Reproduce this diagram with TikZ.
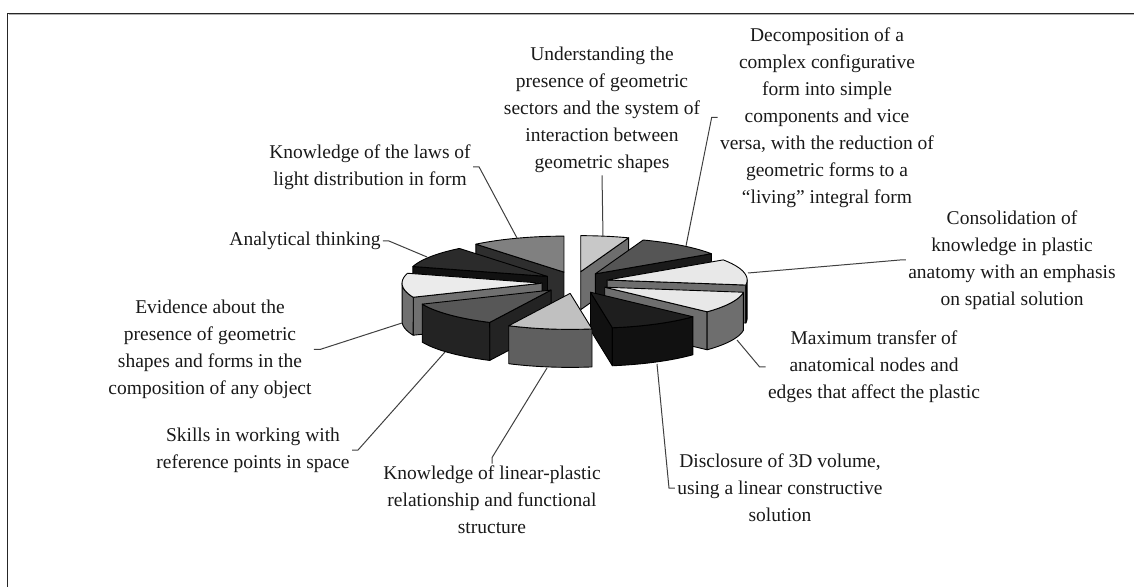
\documentclass[tikz,border=0pt]{standalone}
\usepackage{fontspec}
\setmainfont{Liberation Serif}
\usepackage{tikz}

% pie geometry, in px of the figure
\def\cx{575}\def\cy{282.5}
\def\rx{140}\def\ry{36}
\def\ex{33}\def\ey{11}
\def\h{38}

\newcommand{\settip}[2]{%
  \pgfmathsetmacro\tipx{\cx+\ex*cos((#1+#2)/2)}%
  \pgfmathsetmacro\tipy{\cy-\ey*sin((#1+#2)/2)}}
\newcommand{\radwall}[2]{%
  \filldraw[slice, fill=#2] (\tipx,\tipy) -- ++({\rx*cos(#1)},{-\ry*sin(#1)}) -- ++(0,\h) -- ({\tipx},{\tipy+\h}) -- cycle;}
\newcommand{\outwall}[3]{%
  \filldraw[slice, fill=#3] plot[domain=#1:#2, samples=16] ({\tipx+\rx*cos(\x)},{\tipy-\ry*sin(\x)})
    -- plot[domain=#2:#1, samples=16] ({\tipx+\rx*cos(\x)},{\tipy+\h-\ry*sin(\x)}) -- cycle;}
\newcommand{\topface}[3]{%
  \filldraw[slice, fill=#3] (\tipx,\tipy) -- plot[domain=#1:#2, samples=20] ({\tipx+\rx*cos(\x)},{\tipy-\ry*sin(\x)}) -- cycle;}
\newcommand{\lblfont}{\fontsize{9.75}{13.5}\selectfont}

\definecolor{topUnd}{HTML}{C8C8C8}\definecolor{sideUnd}{HTML}{6E6E6E}
\definecolor{topDec}{HTML}{555555}\definecolor{sideDec}{HTML}{1A1A1A}
\definecolor{topCon}{HTML}{E8E8E8}\definecolor{sideCon}{HTML}{6E6E6E}
\definecolor{topMax}{HTML}{E8E8E8}\definecolor{sideMax}{HTML}{6E6E6E}
\definecolor{topDis}{HTML}{1E1E1E}\definecolor{sideDis}{HTML}{111111}
\definecolor{topLin}{HTML}{C0C0C0}\definecolor{sideLin}{HTML}{5F5F5F}
\definecolor{topSki}{HTML}{575757}\definecolor{sideSki}{HTML}{232323}
\definecolor{topEvi}{HTML}{EBEBEB}\definecolor{sideEvi}{HTML}{707070}
\definecolor{topAna}{HTML}{2B2B2B}\definecolor{sideAna}{HTML}{111111}
\definecolor{topLaw}{HTML}{808080}\definecolor{sideLaw}{HTML}{2E2E2E}

\begin{document}
\begin{tikzpicture}[x=0.5pt, y=-0.5pt,
  slice/.style={draw=black, line width=0.45pt, line join=round},
  lbl/.style={align=center, inner sep=1pt, font=\lblfont, text=black!90},
  leader/.style={draw=black!75, line width=0.5pt}]
\useasboundingbox (0,0) rectangle (1134,587);
\draw[black!85, line width=0.65pt] (7.5,587) -- (7.5,13.2) -- (1134,13.2);
\draw[black!30, line width=0.5pt] (8.5,14.8) -- (1134,14.8);

% slices, back to front
\settip{90}{70}
\radwall{70}{sideUnd}
\topface{90}{70}{topUnd}
\settip{129}{90}
\radwall{129}{sideLaw}
\topface{129}{90}{topLaw}
\settip{70}{34}
\radwall{34}{sideDec}
\topface{70}{34}{topDec}
\settip{164}{129}
\radwall{164}{sideAna}
\topface{164}{129}{topAna}
\settip{34}{-8}
\radwall{-8}{sideCon}
\outwall{-8}{0}{sideCon}
\topface{34}{-8}{topCon}
\settip{203}{164}
\radwall{203}{sideEvi}
\outwall{180}{203}{sideEvi}
\topface{203}{164}{topEvi}
\settip{-8}{-43}
\radwall{-43}{sideMax}
\outwall{-8}{-43}{sideMax}
\topface{-8}{-43}{topMax}
\settip{-116}{-157}
\radwall{-116}{sideSki}
\outwall{-116}{-157}{sideSki}
\topface{-116}{-157}{topSki}
\settip{-43}{-81}
\radwall{-81}{sideDis}
\outwall{-43}{-81}{sideDis}
\topface{-43}{-81}{topDis}
\settip{-81}{-116}
\outwall{-81}{-116}{sideLin}
\topface{-81}{-116}{topLin}

% anchor points on the slices
\coordinate (pUnd) at (603,237);
\coordinate (pDec) at (686,246);
\coordinate (pCon) at (748,273);
\coordinate (pMax) at (737,340);
\coordinate (pDis) at (657,364);
\coordinate (pLin) at (547,368);
\coordinate (pSki) at (445,352);
\coordinate (pEvi) at (402,323);
\coordinate (pAna) at (427,257);
\coordinate (pLaw) at (517,238);

% labels
\node[lbl] (lUnd) at (602,110) {Understanding the\\presence of geometric\\sectors and the system of\\interaction between\\geometric shapes};
\node[lbl] (lDec) at (827,117.5) {Decomposition of a\\complex configurative\\form into simple\\components and vice\\versa, with the reduction of\\geometric forms to a\\“living” integral form};
\node[lbl] (lCon) at (1012,260) {Consolidation of\\knowledge in plastic\\anatomy with an emphasis\\on spatial solution};
\node[lbl] (lMax) at (874,367) {Maximum transfer of\\anatomical nodes and\\edges that affect the plastic};
\node[lbl] (lDis) at (780,488) {Disclosure of 3D volume,\\using a linear constructive\\solution};
\node[lbl] (lLin) at (492,500) {Knowledge of linear-plastic\\relationship and functional\\structure};
\node[lbl] (lSki) at (253,450) {Skills in working with\\reference points in space};
\node[lbl] (lEvi) at (210,349.5) {Evidence about the\\presence of geometric\\shapes and forms in the\\composition of any object};
\node[lbl] (lAna) at (305,241) {Analytical thinking};
\node[lbl] (lLaw) at (370,167) {Knowledge of the laws of\\light distribution in form};

% leader lines
\draw[leader] (pUnd) -- (lUnd.south);
\draw[leader] (pDec) -- ([xshift=-3pt]lDec.west) -- (lDec.west);
\draw[leader] (pCon) -- ([xshift=-3pt]lCon.west) -- (lCon.west);
\draw[leader] (pMax) -- ([xshift=-3pt]lMax.west) -- (lMax.west);
\draw[leader] (pDis) -- ([xshift=-3pt]lDis.west) -- (lDis.west);
\draw[leader] (pLin) -- ([yshift=3pt]lLin.north) -- (lLin.north);
\draw[leader] (pSki) -- ([xshift=3pt]lSki.east) -- (lSki.east);
\draw[leader] (pEvi) -- ([xshift=3pt]lEvi.east) -- (lEvi.east);
\draw[leader] (pAna) -- ([xshift=3pt]lAna.east) -- (lAna.east);
\draw[leader] (pLaw) -- ([xshift=3pt]lLaw.east) -- (lLaw.east);
\end{tikzpicture}
\end{document}
